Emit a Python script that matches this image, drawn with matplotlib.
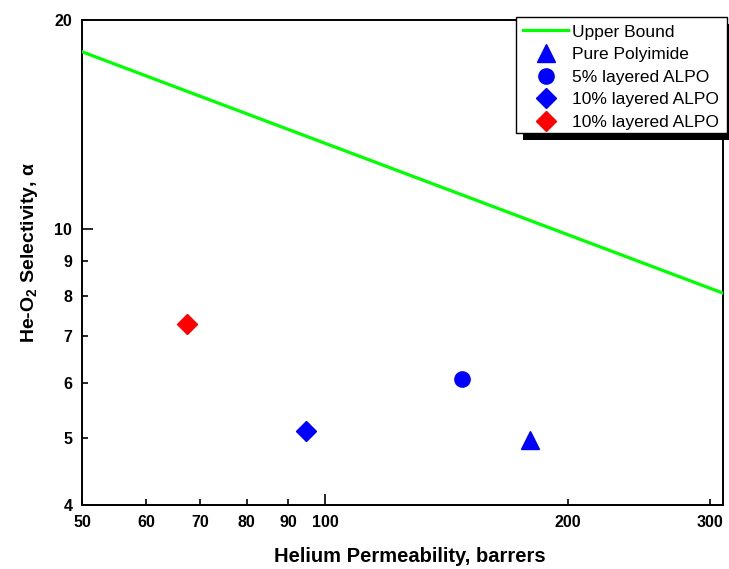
import matplotlib
matplotlib.use("Agg")
import matplotlib.pyplot as plt
from matplotlib.ticker import FixedLocator, FixedFormatter
from matplotlib.patches import Rectangle

plt.rcParams['font.family'] = ['Liberation Sans', 'DejaVu Sans']
plt.rcParams['mathtext.fontset'] = 'custom'
plt.rcParams['mathtext.rm'] = 'Liberation Sans:bold'
plt.rcParams['mathtext.bf'] = 'Liberation Sans:bold'
plt.rcParams['mathtext.default'] = 'bf'

# Data
bound_x = [50, 311]
bound_y = [18.0, 8.08]
pure_x, pure_y = [179.5], [4.97]
alpo5_x, alpo5_y = [147.8], [6.08]
alpo10b_x, alpo10b_y = [94.7], [5.11]
alpo10r_x, alpo10r_y = [67.5], [7.30]

x_ticks = [50, 60, 70, 80, 90, 100, 200, 300]
y_ticks = [4, 5, 6, 7, 8, 9, 10, 20]

W, H = 729, 569
fig = plt.figure(figsize=(W/100, H/100), dpi=100)
ax = fig.add_axes([82/W, 1-505/H, (723-82)/W, (505-20)/H])

ax.plot(bound_x, bound_y, color='#00ff00', lw=2.3, label='Upper Bound', zorder=3)
ax.plot(pure_x, pure_y, '^', color='#0000ff', ms=13, ls='none', label='Pure Polyimide')
ax.plot(alpo5_x, alpo5_y, 'o', color='#0000ff', ms=11, ls='none', label='5% layered ALPO')
ax.plot(alpo10b_x, alpo10b_y, 'D', color='#0000ff', ms=10, ls='none', label='10% layered ALPO')
ax.plot(alpo10r_x, alpo10r_y, 'D', color='#ff0000', ms=10, ls='none', label='10% layered ALPO')

ax.set_xscale('log')
ax.set_yscale('log')
ax.set_xlim(50, 311)
ax.set_ylim(4, 20)

ax.xaxis.set_major_locator(FixedLocator([100]))
ax.xaxis.set_minor_locator(FixedLocator([t for t in x_ticks if t != 100]))
ax.xaxis.set_major_formatter(FixedFormatter(['100']))
ax.xaxis.set_minor_formatter(FixedFormatter([str(t) for t in x_ticks if t != 100]))
ax.yaxis.set_major_locator(FixedLocator([10]))
ax.yaxis.set_minor_locator(FixedLocator([t for t in y_ticks if t != 10]))
ax.yaxis.set_major_formatter(FixedFormatter(['10']))
ax.yaxis.set_minor_formatter(FixedFormatter([str(t) for t in y_ticks if t != 10]))

for which, ln in (('major', 8), ('minor', 4)):
    ax.tick_params(axis='both', which=which, direction='in', length=ln, width=1.2,
                   labelsize=11.5, top=False, right=False, color='black')
for lab in ax.get_xticklabels(which='both') + ax.get_yticklabels(which='both'):
    lab.set_fontweight('bold')
ax.tick_params(axis='x', which='both', pad=7)
ax.tick_params(axis='y', which='both', pad=7)

for s in ax.spines.values():
    s.set_linewidth(1.4)

ax.set_xlabel('Helium Permeability, barrers', fontsize=14.5, fontweight='bold')
ax.xaxis.label.set_va('center')
ax.xaxis.set_label_coords((410-82)/641, -(557-505)/485)
ax.set_ylabel(r'He-O$_2$ Selectivity, α', fontsize=14, fontweight='bold')
ax.yaxis.label.set_va('center')
ax.yaxis.set_label_coords((30-82)/641, (505-252)/485)

# legend with manual frame and hard shadow
lx0, ly0, lx1, ly1 = 516, 17, 727, 133
leg = fig.legend(loc='upper left', bbox_to_anchor=(lx0/W, 1-(ly0+1)/H, (lx1-lx0)/W, 0.001),
                 mode='expand', fontsize=12.5, frameon=False,
                 borderaxespad=0, borderpad=0.4, handlelength=2.6, handletextpad=0.2,
                 labelspacing=0.43)
leg.set_zorder(10)

frame = Rectangle((lx0/W, 1-ly1/H), (lx1-lx0)/W, (ly1-ly0)/H, transform=fig.transFigure,
                  facecolor='white', edgecolor='black', lw=1.0, zorder=9.5)
off = 7
shadow = Rectangle(((lx0+off)/W, 1-(ly1+off)/H), (lx1-lx0)/W, (ly1-ly0)/H,
                   transform=fig.transFigure, facecolor='black', edgecolor='none', zorder=9)
fig.add_artist(shadow)
fig.add_artist(frame)

fig.savefig('out.png', dpi=100)
